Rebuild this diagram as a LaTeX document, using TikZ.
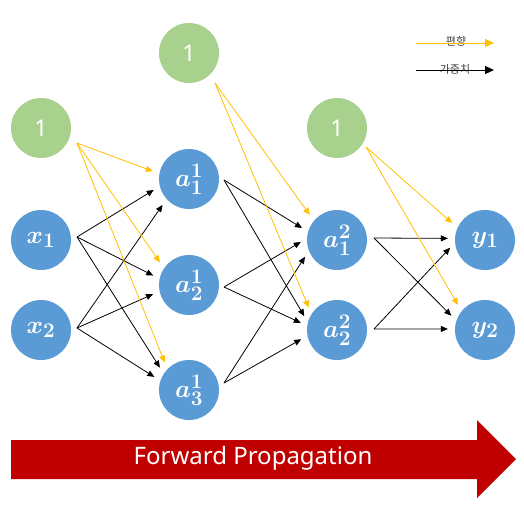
\documentclass[tikz,border=0pt]{standalone}
\usepackage[no-math]{fontspec}
\setmainfont{Noto Sans}
\newfontfamily\kofont{Noto Sans CJK KR}
\usepackage{tikz}
\usetikzlibrary{arrows.meta, calc}
\definecolor{nodeblue}{HTML}{5B9BD5}
\definecolor{biasgreen}{HTML}{A9D18E}
\definecolor{biasyellow}{HTML}{FFC000}
\definecolor{fwdred}{HTML}{C00000}

\begin{document}
\begin{tikzpicture}[x=1pt, y=-1pt, >={Triangle[length=7pt, width=6pt]},
		neuron/.style={circle, fill=nodeblue, minimum size=60pt, inner sep=0pt, text=white, font=\fontsize{24.88}{28}\selectfont\boldmath},
		bias/.style={circle, fill=biasgreen, minimum size=60pt, inner sep=0pt, text=white, font=\fontsize{23}{26}\selectfont},
		weight/.style={->, black, line width=0.8pt, shorten >=7pt},
		biasline/.style={->, biasyellow, line width=0.8pt, shorten >=7pt},
		legend/.style={font=\kofont\fontsize{11}{13}\selectfont, text=black!75, inner sep=1pt}]
			\useasboundingbox (0,0) rectangle (524,507);
			
			% Input layer
			\node[bias] (b0) at (41,128) {1};
			\node[neuron] (x1) at (41,240) {$x_1$};
			\node[neuron] (x2) at (41,330) {$x_2$};
			
			% Hidden layer 1
			\node[bias] (b1) at (189,53) {1};
			\node[neuron] (h11) at (189,179) {$a_1^1$};
			\node[neuron] (h12) at (189,285) {$a_2^1$};
			\node[neuron] (h13) at (189,390) {$a_3^1$};
			
			% Hidden layer 2
			\node[bias] (b2) at (337,128) {1};
			\node[neuron] (h21) at (337,240) {$a_1^2$};
			\node[neuron] (h22) at (337,330) {$a_2^2$};
			
			% Output layer
			\node[neuron] (y1) at (485,240) {$y_1$};
			\node[neuron] (y2) at (485,330) {$y_2$};
			
			% Start points of the connectors
			\coordinate (b0-out) at ($(b0)+(36,15)$);
			\coordinate (x1-out) at ($(x1)+(36,-3)$);
			\coordinate (x2-out) at ($(x2)+(36,-2)$);
			\coordinate (b1-out) at ($(b1)+(26,30)$);
			\coordinate (h11-out) at ($(h11)+(35,1)$);
			\coordinate (h12-out) at ($(h12)+(35,2)$);
			\coordinate (h13-out) at ($(h13)+(35,-7)$);
			\coordinate (b2-out) at ($(b2)+(29,19)$);
			\coordinate (h21-out) at ($(h21)+(37,-2)$);
			\coordinate (h22-out) at ($(h22)+(37,-1)$);
			
			% Inputs -> hidden layer 1
			\draw[weight] (x1-out) -- (h11.194);
			\draw[weight] (x1-out) -- (h12.168);
			\draw[weight] (x1-out) -- (h13.147);
			\draw[weight] (x2-out) -- (h11.222);
			\draw[weight] (x2-out) -- (h12.192);
			\draw[weight] (x2-out) -- (h13.162);
			\draw[biasline] (b0-out) -- (h11.170);
			\draw[biasline] (b0-out) -- (h12.146);
			\draw[biasline] (b0-out) -- (h13.136);
			
			% Hidden layer 1 -> hidden layer 2
			\draw[weight] (h11-out) -- (h21.164);
			\draw[weight] (h11-out) -- (h22.165);
			\draw[weight] (h12-out) -- (h21.177);
			\draw[weight] (h12-out) -- (h22.172);
			\draw[weight] (h13-out) -- (h21.201);
			\draw[weight] (h13-out) -- (h22.191);
			\draw[biasline] (b1-out) -- (h21.140);
			\draw[biasline] (b1-out) -- (h22.148);
			
			% Hidden layer 2 -> output
			\draw[weight] (h21-out) -- (y1.177);
			\draw[weight] (h21-out) -- (y2.162);
			\draw[weight] (h22-out) -- (y1.185);
			\draw[weight] (h22-out) -- (y2.178);
			\draw[biasline] (b2-out) -- (y1.156);
			\draw[biasline] (b2-out) -- (y2.141);
			
			% Legend
			\node[legend] (leg-bias) at (456,41) {편향};
			\node[legend] (leg-weight) at (455,69) {가중치};
			\coordinate (leg-bias-s) at (416,43);
			\coordinate (leg-bias-e) at (494,43);
			\coordinate (leg-weight-s) at (416,70);
			\coordinate (leg-weight-e) at (494,70);
			\draw[-{Triangle[length=9pt, width=8pt]}, biasyellow, line width=0.9pt] (leg-bias-s) -- (leg-bias-e);
			\draw[-{Triangle[length=9pt, width=8pt]}, black, line width=0.9pt] (leg-weight-s) -- (leg-weight-e);
			
			% Forward arrow
			\fill[fwdred] (11,440) -- (477,440) -- (477,420) -- (516,459) -- (477,498) -- (477,479) -- (11,479) -- cycle;
			\node[text=white, font=\fontsize{24}{28}\selectfont] (fwd) at (253,458) {Forward Propagation};
			
		\end{tikzpicture}
\end{document}
